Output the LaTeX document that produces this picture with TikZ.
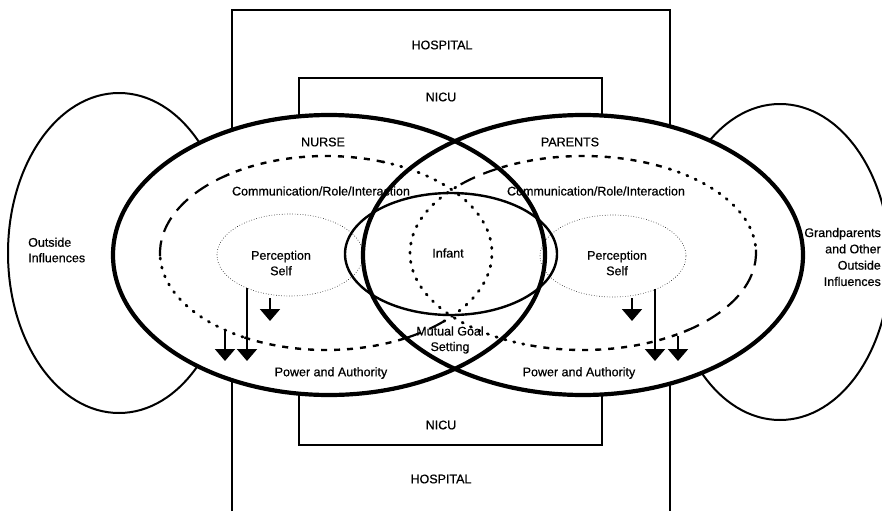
\documentclass[tikz,border=0pt]{standalone}
\usepackage{fontspec}
\setmainfont{Liberation Sans}[FakeBold=0.6]
\usetikzlibrary{arrows.meta,shapes.geometric}

\tikzset{
  lbl/.style={font=\fontsize{12.5}{15.5}\selectfont, inner sep=0pt, align=center},
  wall/.style={line width=1.6pt},
  person/.style={line width=4.2pt},
  outer/.style={line width=2pt},
  shortdash/.style={line width=2.4pt, dash pattern=on 6pt off 7pt},
  longdash/.style={line width=2.2pt, dash pattern=on 16pt off 9pt},
  dotline/.style={line width=2.8pt, line cap=round, dash pattern=on 1.2pt off 8pt},
  percep/.style={ellipse, draw, dotted, line width=0.6pt, minimum width=146pt, minimum height=82pt, inner sep=0pt},
  downarr/.style={line width=2pt, -{Triangle[width=20pt,length=12pt]}},
}

\begin{document}
\begin{tikzpicture}[x=1pt,y=-1pt]
  \useasboundingbox (0,0) rectangle (882,511);
  \clip (0,0) rectangle (882,511);

  % centres
  \coordinate (outL) at (119,253);
  \coordinate (outR) at (780,262);
  \coordinate (nurseC) at (329,255);
  \coordinate (parentC) at (583,255);
  \coordinate (commN) at (326,253);
  \coordinate (commP) at (583,253);

  % outside influences
  \draw[outer] (outL) ellipse[x radius=111, y radius=160];
  \draw[outer] (outR) ellipse[x radius=110, y radius=158];

  % hospital and nicu walls
  \draw[wall] (232,511) -- (232,10) -- (670,10) -- (670,511);
  \draw[wall] (299,78) rectangle (602,445);
  \node[lbl] (hospTop) at (442,45) {HOSPITAL};
  \node[lbl] (nicuTop) at (441,97) {NICU};
  \node[lbl] (nicuBot) at (441,425) {NICU};
  \node[lbl] (hospBot) at (441,479) {HOSPITAL};

  % white inside the two people
  \fill[white] (nurseC) ellipse[x radius=216, y radius=140]
               (parentC) ellipse[x radius=220, y radius=140];

  % communication / power rings, nurse side
  \foreach \a/\b/\s in {-70/45/dotline, 45/62/longdash, 62/120/shortdash,
                        120/178/dotline, 178/232/longdash, 232/290/shortdash}
    \draw[\s] ([shift={(\a:166 and 97)}]commN)
      arc[start angle=\a, end angle=\b, x radius=166, y radius=97];
  % parents side
  \foreach \a/\b/\s in {110/225/dotline, 225/242/longdash, 242/300/shortdash,
                        300/358/dotline, 358/412/longdash, 412/470/shortdash}
    \draw[\s] ([shift={(\a:173 and 97)}]commP)
      arc[start angle=\a, end angle=\b, x radius=173, y radius=97];

  % perception
  \node[percep] (percN) at (290,255) {};
  \node[percep] (percP) at (613,256) {};
  \node[lbl] (percNtxt) at (281,263) {Perception\\Self};
  \node[lbl] (percPtxt) at (617,263) {Perception\\Self};

  % infant
  \draw[line width=2.4pt] (451,254) ellipse[x radius=106, y radius=61];
  \node[lbl] (infant) at (448,253) {Infant};

  % arrows
  \coordinate (nA) at (270,298);  \coordinate (nAt) at (270,321);
  \coordinate (nB) at (247,288);  \coordinate (nBt) at (247,361);
  \coordinate (nC) at (225,331);  \coordinate (nCt) at (225,361);
  \coordinate (pA) at (632,298);  \coordinate (pAt) at (632,321);
  \coordinate (pB) at (655,289);  \coordinate (pBt) at (655,361);
  \coordinate (pC) at (678,336);  \coordinate (pCt) at (678,361);
  \draw[downarr] (nA) -- (nAt);
  \draw[downarr] (nB) -- (nBt);
  \draw[downarr] (nC) -- (nCt);
  \draw[downarr] (pA) -- (pAt);
  \draw[downarr] (pB) -- (pBt);
  \draw[downarr] (pC) -- (pCt);

  % people outlines
  \draw[person] (nurseC) ellipse[x radius=216, y radius=140];
  \draw[person] (parentC) ellipse[x radius=220, y radius=140];

  % labels
  \node[lbl] (nurse) at (323,142) {NURSE};
  \node[lbl] (parents) at (570,142) {PARENTS};
  \node[lbl] (commNtxt) at (321,191) {Communication/Role/Interaction};
  \node[lbl] (commPtxt) at (596,191) {Communication/Role/Interaction};
  \node[lbl] (powN) at (331,373) {Power and Authority};
  \node[lbl] (powP) at (579,373) {Power and Authority};
  \node[lbl] (goal) at (450,340) {Mutual Goal\\Setting};
  \node[lbl, align=left, anchor=west] (outLtxt) at (28,250) {Outside\\Influences};
  \node[lbl, align=right, anchor=east, font=\fontsize{12.5}{16.3}\selectfont]
    (outRtxt) at (881,257) {Grandparents\\and Other\\Outside\\Influences};
\end{tikzpicture}
\end{document}
